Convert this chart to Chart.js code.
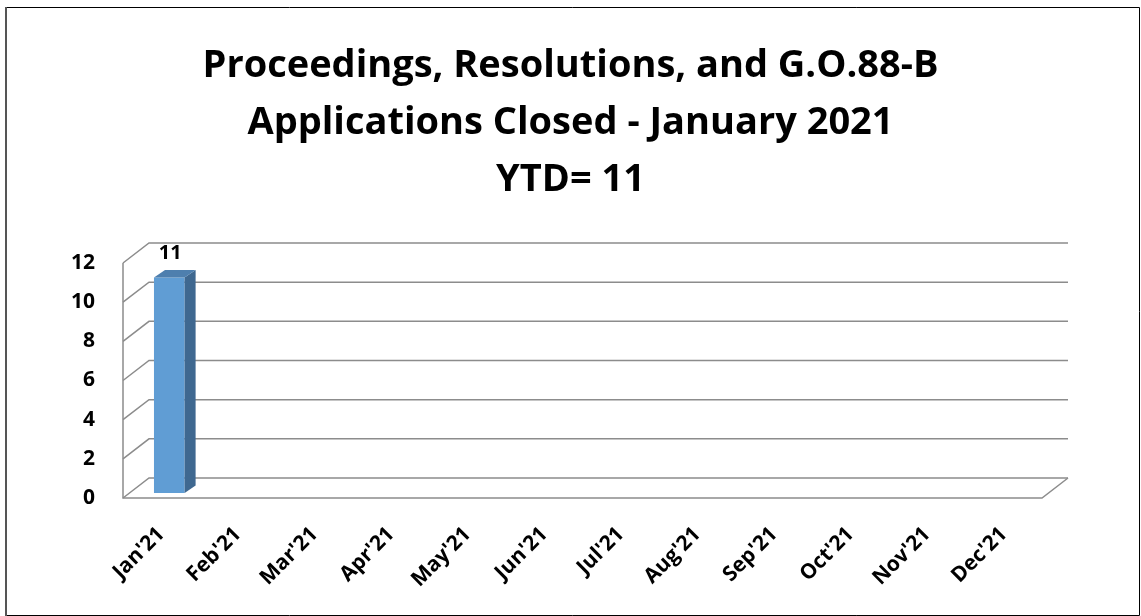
<!DOCTYPE html>
<html>
<head>
<meta charset="utf-8">
<script src="https://cdn.jsdelivr.net/npm/chart.js@4.4.0/dist/chart.umd.min.js"></script>
<style>
html, body { margin: 0; padding: 0; background: #fff; }
#wrap { width: 1141px; height: 616px; }
</style>
</head>
<body>
<div id="wrap"><canvas id="myChart" width="1141" height="616"></canvas></div>
<script>
// data
const months = ["Jan'21", "Feb'21", "Mar'21", "Apr'21", "May'21", "Jun'21",
                "Jul'21", "Aug'21", "Sep'21", "Oct'21", "Nov'21", "Dec'21"];
const closedCounts = [11, null, null, null, null, null, null, null, null, null, null, null];
const yTicks = [0, 2, 4, 6, 8, 10, 12];
const titleLines = ['Proceedings, Resolutions, and G.O.88-B',
                    'Applications Closed - January 2021',
                    'YTD= 11'];

// fake 3d depth
const wallDx = 26, wallDy = -20;
const barShiftX = 8, barShiftY = -5;
const barDx = 11, barDy = -7.5;
const font = 'Open Sans';

var ctx = document.getElementById('myChart').getContext('2d');

const frame = {
    id: 'frame',
    beforeDraw(chart) {
        const c = chart.ctx;
        c.save();
        c.fillStyle = '#fff';
        c.fillRect(0, 0, chart.width, chart.height);
        c.strokeStyle = '#000';
        c.lineWidth = 1;
        c.beginPath();
        c.moveTo(6, 7.5); c.lineTo(1139.5, 7.5);
        c.lineTo(1139.5, 615.5); c.lineTo(6, 615.5);
        c.stroke();
        c.strokeStyle = '#555';
        c.lineWidth = 2;
        c.beginPath();
        c.moveTo(6, 7); c.lineTo(6, 616);
        c.stroke();
        c.restore();
    }
};

const walls = {
    id: 'walls',
    beforeDatasetsDraw(chart) {
        const c = chart.ctx, a = chart.chartArea, y = chart.scales.y;
        c.save();
        c.strokeStyle = '#8c8c8c';
        c.lineWidth = 1.5;
        yTicks.forEach(v => {
            const py = y.getPixelForValue(v);
            c.beginPath();
            c.moveTo(a.left, py);
            c.lineTo(a.left + wallDx, py + wallDy);
            c.lineTo(a.right + wallDx, py + wallDy);
            c.stroke();
        });
        const top = y.getPixelForValue(yTicks[yTicks.length - 1]);
        const bot = y.getPixelForValue(0);
        c.beginPath();
        c.moveTo(a.left, top);
        c.lineTo(a.left, bot);
        c.lineTo(a.right, bot);
        c.lineTo(a.right + wallDx, bot + wallDy);
        c.stroke();
        c.restore();
        // push the bars back into the box
        c.save();
        c.translate(barShiftX, barShiftY);
    },
    afterDatasetsDraw(chart) {
        const c = chart.ctx;
        c.restore();
        const meta = chart.getDatasetMeta(0);
        meta.data.forEach((bar, i) => {
            if (closedCounts[i] == null) return;
            const p = bar.getProps(['x', 'y', 'base', 'width'], true);
            const l = p.x - p.width / 2 + barShiftX, r = p.x + p.width / 2 + barShiftX;
            const t = p.y + barShiftY, b = p.base + barShiftY;
            c.save();
            // side
            c.fillStyle = '#3f6890';
            c.beginPath();
            c.moveTo(r, t); c.lineTo(r + barDx, t + barDy);
            c.lineTo(r + barDx, b + barDy); c.lineTo(r, b);
            c.closePath(); c.fill();
            // top
            c.fillStyle = '#4e7fae';
            c.beginPath();
            c.moveTo(l, t); c.lineTo(l + barDx, t + barDy);
            c.lineTo(r + barDx, t + barDy); c.lineTo(r, t);
            c.closePath(); c.fill();
            // value label
            c.fillStyle = '#000';
            c.font = 'bold 20px "' + font + '"';
            c.textAlign = 'center';
            c.textBaseline = 'alphabetic';
            c.fillText(String(closedCounts[i]), (l + r) / 2 + 1, t + barDy - 11);
            c.restore();
        });
    }
};

var chart = new Chart(ctx, {
    type: 'bar',
    data: {
        labels: months,
        datasets: [{
            label: 'Closed',
            data: closedCounts,
            backgroundColor: '#609dd4',
            borderWidth: 0,
            barPercentage: 0.4,
            categoryPercentage: 1
        }]
    },
    options: {
        responsive: false,
        animation: false,
        devicePixelRatio: 1,
        layout: { padding: 0 },
        plugins: {
            legend: { display: false },
            tooltip: { enabled: false },
            title: {
                display: true,
                text: titleLines,
                color: '#000',
                font: { family: font, size: 38, weight: 'bold', lineHeight: 57 / 38 },
                padding: { top: 38, bottom: 54 }
            }
        },
        scales: {
            x: {
                grid: { display: false, drawTicks: false },
                border: { display: false },
                ticks: {
                    color: '#000',
                    font: { family: font, size: 21, weight: 'bold' },
                    maxRotation: 45,
                    minRotation: 45,
                    autoSkip: false,
                    padding: 24
                },
                afterFit: (scale) => { scale.height = 118; }
            },
            y: {
                min: 0,
                max: 12,
                grid: { display: false, drawTicks: false },
                border: { display: false },
                ticks: {
                    stepSize: 2,
                    color: '#000',
                    font: { family: font, size: 21, weight: 'bold' },
                    padding: 28
                },
                afterFit: (scale) => { scale.width = 123; }
            },
            // empty right strip so the walls stop where they do in the original
            yRight: {
                position: 'right',
                grid: { display: false, drawTicks: false },
                border: { display: false },
                ticks: { display: false },
                afterFit: (scale) => { scale.width = 99; }
            }
        }
    },
    plugins: [frame, walls]
});
</script>
</body>
</html>
